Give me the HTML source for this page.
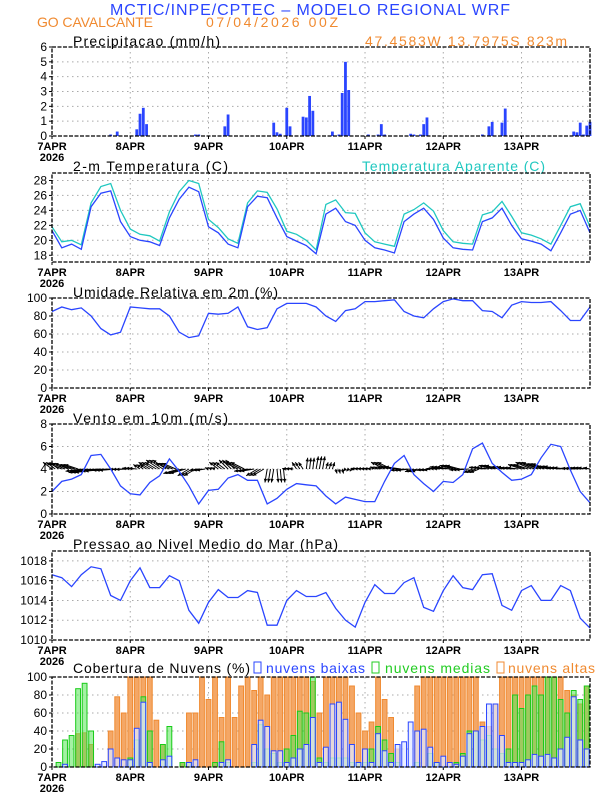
<!DOCTYPE html>
<html><head><meta charset="utf-8"><style>
html,body{margin:0;padding:0;background:#fff;}
svg{display:block;font-family:"Liberation Sans",sans-serif;}
</style></head><body>
<svg id="chart" width="612" height="792" viewBox="0 0 612 792">
<text x="110" y="15" font-size="16" fill="#2a45ff" textLength="400">MCTIC/INPE/CPTEC – MODELO REGIONAL WRF</text>
<text x="37" y="27" font-size="14" fill="#f08a30" textLength="116">GO CAVALCANTE</text>
<text x="206" y="27" font-size="14" fill="#f08a30" textLength="132">07/04/2026 00Z</text>
<text x="365" y="46" font-size="14" fill="#f08a30" textLength="202">47.4583W 13.7975S 823m</text>
<text x="73" y="46" font-size="14" fill="#000" textLength="147">Precipitacao (mm/h)</text>
<text x="73" y="171" font-size="14" fill="#000" textLength="155">2-m Temperatura (C)</text>
<text x="362" y="171" font-size="14" fill="#20c8c0" textLength="183">Temperatura Aparente (C)</text>
<text x="73" y="297" font-size="14" fill="#000" textLength="205">Umidade Relativa em 2m (%)</text>
<text x="73" y="423" font-size="14" fill="#000" textLength="155">Vento em 10m (m/s)</text>
<text x="73" y="549" font-size="14" fill="#000" textLength="265">Pressao ao Nivel Medio do Mar (hPa)</text>
<text x="73" y="673" font-size="14" fill="#000" textLength="177">Cobertura de Nuvens (%)</text>
<rect x="254" y="662" width="7" height="11" fill="none" stroke="#2a45ff"/>
<text x="266" y="673" font-size="14" fill="#2a45ff" textLength="99">nuvens baixas</text>
<rect x="372" y="662" width="7" height="11" fill="none" stroke="#22cc22"/>
<text x="385" y="673" font-size="14" fill="#22cc22" textLength="105">nuvens medias</text>
<rect x="497" y="662" width="7" height="11" fill="none" stroke="#f08a30"/>
<text x="508" y="673" font-size="14" fill="#f08a30" textLength="87">nuvens altas</text>
<g id="plots"></g>
</svg>
<script>
const dayLabels=["7APR","8APR","9APR","10APR","11APR","12APR","13APR"];
const precipHours=[18,20,26,27,28,29,44,45,53,54,68,69,70,72,73,77,78,79,80,86,88,89,90,91,97,100,101,102,110,111,113,114,115,132,134,135,138,139,160,161,162,163,164,165];
const precipVals=[0.1,0.3,0.45,1.5,1.9,0.8,0.1,0.1,0.65,1.45,0.9,0.25,0.15,1.9,0.65,1.3,1.25,2.7,1.7,0.3,0.1,2.9,5.0,3.1,0.1,0.1,0.8,0.1,0.15,0.1,0.1,0.8,1.25,0.1,0.65,0.95,0.9,1.85,0.3,0.25,0.9,0.1,0.7,0.95];
const temp=[21.3,19.0,19.5,18.8,24.5,26.3,26.6,22.5,20.5,20.0,19.8,19.3,23.0,25.5,27.1,26.5,21.8,21.0,19.5,19.0,24.5,25.9,25.7,23.0,20.5,19.9,19.3,18.2,23.5,24.3,22.5,22.0,20.0,19.0,18.7,18.3,22.5,23.5,24.3,22.8,20.3,19.0,18.8,18.7,22.5,23.0,24.3,22.0,20.2,19.9,19.5,18.6,21.0,23.5,24.0,21.0];
const tempApp=[21.8,19.8,20.0,19.4,25.0,27.2,27.6,24.0,21.5,20.8,20.6,19.9,23.8,26.5,28.0,27.6,22.8,21.7,20.2,19.6,25.0,26.6,26.4,24.2,21.2,20.8,20.0,18.7,24.8,25.4,23.7,23.6,21.0,19.8,19.5,19.2,23.5,24.1,25.0,23.9,21.3,19.8,19.6,19.5,23.4,23.8,25.2,23.2,21.0,20.7,20.2,19.5,22.0,24.5,24.9,21.8];
const rh=[85,90,87,89,80,66,59,62,90,89,88,88,80,62,56,58,83,82,83,90,68,65,67,88,94,94,94,90,80,74,86,88,96,96,97,98,85,80,78,88,96,99,97,97,86,85,78,92,96,95,95,96,86,75,75,90];
const windSpeed=[2.0,2.9,3.1,3.5,5.2,5.3,4.0,2.5,1.8,1.7,2.8,3.4,4.9,3.8,2.5,0.9,2.1,2.2,3.2,3.5,3.0,3.0,0.9,1.4,2.2,2.7,2.6,2.5,1.6,0.9,1.5,1.3,1.1,1.1,2.9,4.5,5.2,3.5,2.7,2.0,2.9,2.8,3.5,5.8,6.3,4.5,3.7,3.0,3.1,3.5,5.0,6.2,6.0,3.9,2.0,1.0];
const windU=[-2,-3,-3,-3.5,-5,-5,-4,-2.5,-1.8,-1.5,-2.5,-3,-3,-3.5,-2.5,-2,-0.8,-2,-2,-3,-3,-2.5,-0.5,0.3,-1,-1,0.3,0.5,0.5,0.3,-0.5,-1,-1,-1,-3,-3.5,-3,-2,-1.5,-1.5,-3,-3,-3,-2,-3,-3,-2.5,-2.5,-3,-3.5,-3.5,-3,-3,-2,-2,-1.5];
const windV=[1.5,1.3,1.0,-0.5,-0.8,-0.5,-0.3,-0.1,0.2,1.0,1.5,2.0,1.3,-1.0,-1.5,-0.3,0.3,1.5,2.0,1.5,-0.5,-1.5,-3.0,-3.0,0.1,1.5,2.5,2.8,1.5,-1,-0.5,0.1,0.1,0.5,1.5,0.5,-0.3,-0.6,-0.3,0.1,0.5,0.8,-0.2,-0.8,0.4,0.8,0.5,0.3,1,1.5,1.2,0.6,0.3,0.2,0.3,0.3];
const pressure=[1016.6,1016.3,1015.4,1016.6,1017.4,1017.2,1014.5,1014.0,1016.0,1017.3,1015.3,1015.3,1016.5,1016.0,1013.0,1011.7,1013.8,1015.1,1014.3,1014.3,1015.0,1014.8,1011.5,1011.5,1014.0,1015.0,1014.4,1014.4,1014.8,1013.2,1012.0,1011.3,1013.8,1015.6,1014.7,1014.7,1015.8,1016.3,1013.3,1012.9,1015.0,1016.5,1015.3,1015.1,1016.6,1016.7,1013.5,1013.0,1015.0,1015.5,1014.0,1014.0,1015.5,1015.0,1012.2,1011.2];
const cloudHigh=[0,0,0,0,37,38,25,0,0,40,78,60,100,100,100,100,52,25,0,0,5,60,60,100,75,100,55,100,55,90,100,85,100,80,100,100,100,100,100,100,95,60,100,100,100,100,90,60,40,50,100,75,55,20,0,0,90,100,100,100,100,100,100,100,100,100,50,45,70,100,100,100,100,100,100,100,100,100,100,85,80,70,90];
const cloudMid=[0,5,30,35,87,93,40,0,0,0,0,0,10,30,78,40,0,25,45,0,5,5,0,0,0,5,28,5,0,0,0,5,47,20,15,5,20,35,62,60,100,10,5,10,10,10,5,5,5,20,45,30,15,5,0,0,5,0,15,5,0,0,5,15,40,40,30,35,20,15,20,80,65,80,90,80,100,100,75,60,85,75,90];
const cloudLow=[0,0,3,0,0,0,0,3,6,20,10,8,8,43,72,5,0,8,12,0,0,5,8,0,0,0,5,8,0,0,0,25,52,45,18,18,5,10,20,25,55,5,22,70,72,53,25,5,20,5,37,18,5,25,28,50,40,42,22,5,12,5,3,12,37,40,45,70,70,35,5,5,5,8,14,12,14,10,20,33,78,30,20];

const NS="http://www.w3.org/2000/svg";
const root=document.getElementById('plots');
const X0=52,X1=590,HMAX=165;
function xh(h){return X0+(X1-X0)*h/HMAX;}
function mk(tag,attrs,parent){const e=document.createElementNS(NS,tag);for(const k in attrs)e.setAttribute(k,attrs[k]);(parent||root).appendChild(e);return e;}

function panel(name,top,bot,ymin,ymax,ticks){
  const g=mk('g',{});
  
  
  const y=v=>bot-(v-ymin)/(ymax-ymin)*(bot-top);
  for(const t of ticks){
    const ty=y(t);
    if(ty>top+1&&ty<bot-1){const l=mk('line',{x1:X0,x2:X1,y1:ty,y2:ty,stroke:'#aaa','stroke-dasharray':'1.5,3.5'},g);}
    const tk=mk('line',{x1:X0-3,x2:X0,y1:ty,y2:ty,stroke:'#000'},g);
    
    const tx=mk('text',{x:X0-5,y:ty+4,'font-size':12,'text-anchor':'end',fill:'#000'},g);
    tx.textContent=t;
    
  }
  for(let d=0;d<7;d++){
    const dx=xh(d*24);
    if(d>0){const l=mk('line',{x1:dx,x2:dx,y1:top,y2:bot,stroke:'#aaa','stroke-dasharray':'1.5,3.5'},g);}
    const tk=mk('line',{x1:dx,x2:dx,y1:bot,y2:bot+3,stroke:'#000'},g);
    
    const tx=mk('text',{x:dx,y:bot+14,'font-size':11,'font-weight':'bold','text-anchor':'middle',fill:'#000'},g);
    tx.textContent=dayLabels[d];
    
  }
  const yr=mk('text',{x:X0,y:bot+25,'font-size':11,'font-weight':'bold','text-anchor':'middle',fill:'#000'},g);
  yr.textContent='2026';
  
  const data=mk('g',{},g);
  
  const box=mk('rect',{x:X0,y:top,width:X1-X0,height:bot-top,fill:'none',stroke:'#000','stroke-width':1.3,'stroke-dasharray':'4,1.5'},g);
  
  return {g:data,y};
}
function line(p,vals,color,name){
  const pts=vals.map((v,i)=>xh(i*3).toFixed(1)+','+p.y(v).toFixed(1)).join(' ');
  const pl=mk('polyline',{points:pts,fill:'none',stroke:color,'stroke-width':1.3},p.g);
  
}

// Precip
const p1=panel('precip',47,136,0,6,[0,1,2,3,4,5,6]);
precipHours.forEach((h,i)=>{
  const r=mk('rect',{x:xh(h)-1.4,y:p1.y(precipVals[i]),width:2.8,height:p1.y(0)-p1.y(precipVals[i]),fill:'#2a45ff'},p1.g);
  
});
// Temp
const p2=panel('temp',173,262,17.1,29,[18,20,22,24,26,28]);
line(p2,tempApp,'#20c8c0','apparent-temp-line');
line(p2,temp,'#2a45ff','temp-line');
// RH
const p3=panel('humidity',298,388,0,100,[0,20,40,60,80,100]);
line(p3,rh,'#2a45ff','humidity-line');
// Wind (arrows drawn every hour, holding each 3-hourly value)
const p4=panel('wind',424,514,0,8,[0,2,4,6,8]);
const wy=p4.y(4);
for(let h=0;h<=HMAX;h++){
  const i=Math.min(windU.length-1,Math.floor(h/3));
  const bx=xh(h),sc=4.5;
  const ex=bx+windU[i]*sc,ey=wy-windV[i]*sc;
  const a=mk('line',{x1:bx,y1:wy,x2:ex,y2:ey,stroke:'#000','stroke-width':1},p4.g);
  
  
  const ang=Math.atan2(ey-wy,ex-bx),L=4;
  const hd=mk('polygon',{points:`${ex},${ey} ${ex-L*Math.cos(ang-0.45)},${ey-L*Math.sin(ang-0.45)} ${ex-L*Math.cos(ang+0.45)},${ey-L*Math.sin(ang+0.45)}`,fill:'#000'},p4.g);
  
  
}
line(p4,windSpeed,'#2a45ff','wind-speed-line');
// Pressure
const p5=panel('pressure',551,640,1010,1019,[1010,1012,1014,1016,1018]);
line(p5,pressure,'#2a45ff','pressure-line');
// Clouds
const p6=panel('cloud',677,767,0,100,[0,20,40,60,80,100]);
function bars(vals,fill,stroke,name){
  vals.forEach((v,i)=>{
    if(v<=0)return;
    const x=xh(i*2)-2.4;
    const r=mk('rect',{x:x,y:p6.y(v),width:4.8,height:p6.y(0)-p6.y(v),fill:fill,stroke:stroke,'stroke-width':1},p6.g);
    
  });
}
bars(cloudHigh,'#f4a766','#f08a30','cloud-high-bar');
bars(cloudMid,'rgba(90,230,90,0.55)','#18cc18','cloud-mid-bar');
bars(cloudLow,'rgba(225,232,255,0.75)','#2a45ff','cloud-low-bar');
</script>
</body></html>
